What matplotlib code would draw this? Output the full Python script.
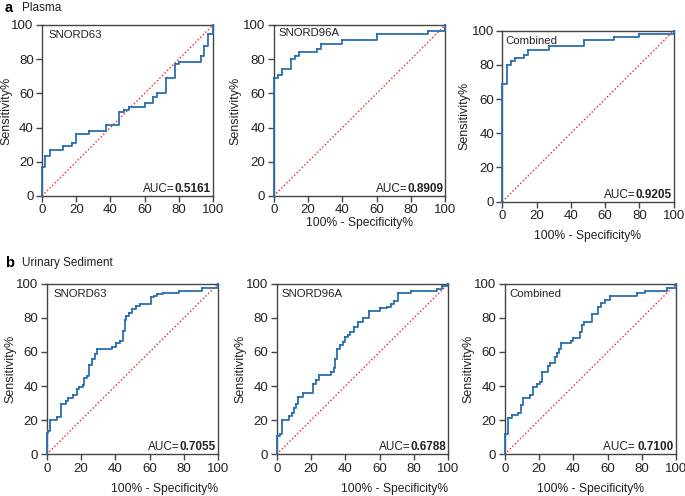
import matplotlib
matplotlib.use("Agg")
import matplotlib.pyplot as plt

plt.rcParams['font.family'] = ['Liberation Sans', 'DejaVu Sans']

# ---------------- data (ROC staircase vertices: x = 100% - Specificity%, y = Sensitivity%)
a_snord63_x = [0, 0, 2, 4.9, 12.2, 17.7, 20, 27.2, 37.3, 44.9, 48, 50.7, 60, 65, 67.5, 72.5, 77.5, 80, 92.8, 95, 97, 100]
a_snord63_y = [0, 17, 23.5, 27, 29, 31, 36, 38.3, 41.7, 49, 50.5, 52, 54.5, 58, 60, 69, 77, 78.5, 82, 88, 94.5, 100]

a_snord96a_x = [0, 0, 2.5, 5, 10, 12.5, 15, 25, 27.5, 40, 60, 90, 100]
a_snord96a_y = [0, 69, 71, 74.5, 80, 82, 84, 86, 89, 91, 95, 96.5, 100]

a_combined_x = [0, 0, 2.5, 5, 7.5, 12.5, 15, 27.5, 47.5, 65, 80, 100]
a_combined_y = [0, 69, 80, 82, 84, 86, 89, 91, 94.5, 96.5, 98, 100]

b_snord63_x = [0, 0, 1, 2, 6.2, 8.5, 11, 12.5, 15.5, 17.5, 19, 21, 22, 23.3, 24.5, 26.4, 28, 29.5,
               38, 40.4, 42.5, 44.5, 45.5, 46.5, 48, 49.7, 52, 54.5, 60.5, 62.5, 64.5, 67.5, 77, 90.5, 100]
b_snord63_y = [0, 12.3, 13.5, 20, 22, 29.5, 31.5, 33, 35, 38, 39.3, 40.4, 44.5, 46, 52.5, 56, 59, 61.7,
               63, 65.5, 66.5, 72, 79, 81, 83, 85, 87, 88, 92, 93, 94, 94.5, 96, 97.5, 100]

b_snord96a_x = [0, 0, 1.8, 2.8, 7.4, 9, 10.3, 11.3, 12.4, 15.3, 21, 23, 24.9, 31.7, 33.2, 34.2, 35.2, 37,
                38.5, 40, 41.5, 43, 45, 47.4, 50, 54, 60, 64, 66.5, 68.3, 70.5, 78.5, 93.5, 96.5, 100]
b_snord96a_y = [0, 10.5, 12, 20, 22.5, 24, 27, 29.5, 33.3, 35.7, 41, 43.5, 46.5, 48, 50.8, 56, 61.5, 64,
                66, 68.8, 70, 71.7, 74.6, 77.5, 80, 84, 85.8, 86.5, 88, 89.8, 94.8, 95.8, 97, 98.8, 100]

b_combined_x = [0, 0, 1.8, 4, 8, 9.3, 10.9, 14.8, 16.7, 18.6, 20.6, 21.8, 25.2, 26.4, 29.5, 30.5, 31.6,
                32.6, 38.4, 40, 43.9, 44.9, 46.5, 50.7, 54.6, 56.3, 58.3, 61.2, 77, 82, 94.7, 100]
b_combined_y = [0, 12, 21.3, 23, 24.5, 29, 33, 35, 39.6, 41, 42.5, 48, 52, 53.5, 57, 59.5, 61.5,
                65.3, 66.5, 68, 71.7, 76, 77.5, 82.5, 86.5, 88.5, 90.5, 93, 94.5, 95.8, 97.3, 100]

names = ["SNORD63", "SNORD96A", "Combined", "SNORD63", "SNORD96A", "Combined"]
auc_values = ["0.5161", "0.8909", "0.9205", "0.7055", "0.6788", "0.7100"]
auc_prefix = ["AUC=", "AUC=", "AUC=", "AUC=", "AUC=", "AUC= "]
ticks = [0, 20, 40, 60, 80, 100]

curves = [(a_snord63_x, a_snord63_y), (a_snord96a_x, a_snord96a_y), (a_combined_x, a_combined_y),
          (b_snord63_x, b_snord63_y), (b_snord96a_x, b_snord96a_y), (b_combined_x, b_combined_y)]

# ---------------- layout (pixels: left, right, top, bottom)
W, H = 685, 496
boxes = [(42, 213, 25, 196), (273.7, 445.3, 25, 196), (502.3, 673.7, 30.7, 201.7),
         (46.7, 218.3, 283.7, 454.3), (276.7, 448.3, 283.7, 454.3), (504.7, 676.3, 283.7, 454.3)]
ylab_right = [12, 241, 470, 16, 246, 474]
name_pos = [(0.035, 0.94), (0.027, 0.952), (0.02, 0.94), (0.04, 0.94), (0.03, 0.94), (0.03, 0.94)]
# xlabel: (y pixel, alignment)
xlab = [None, (223, 'center'), (236, 'center'), (489, 'right'), (489, 'right'), (489, 'center')]

fig = plt.figure(figsize=(W / 100, H / 100), dpi=100)
line_col = '#2a70b0'
spine_col = '#444444'
txt_col = '#222222'

for i, (l, r, t, b) in enumerate(boxes):
    ax = fig.add_axes([l / W, 1 - b / H, (r - l) / W, (b - t) / H])
    x, y = curves[i]
    ax.plot([0, 100], [0, 100], color='#ee2222', linestyle=(0, (1, 1.6)), linewidth=1.0, clip_on=False)
    ax.plot(x, y, drawstyle='steps-post', color=line_col, linewidth=1.3,
            marker='s', markersize=1.6, markeredgewidth=0, clip_on=False, zorder=3)
    ax.set_xlim(0, 100)
    ax.set_ylim(0, 100)
    ax.set_xticks(ticks)
    ax.set_yticks(ticks)
    ax.tick_params(direction='out', length=4, width=1, labelsize=9.5, color=spine_col,
                   labelcolor=txt_col, pad=2)
    for s in ax.spines.values():
        s.set_color(spine_col)
        s.set_linewidth(1.0)
    ax.set_ylabel('Sensitivity%', fontsize=9, color=txt_col)
    ax.yaxis.set_label_coords((ylab_right[i] - l) / (r - l), 0.5)
    nx, ny = name_pos[i]
    ax.text(nx, ny, names[i], transform=ax.transAxes, fontsize=8.2, ha='left', va='center',
            color=txt_col)
    tv = ax.text(0.988, 0.04, auc_values[i], transform=ax.transAxes, fontsize=8.5,
                 fontweight='bold', ha='right', va='center', color=txt_col)
    ax.annotate(auc_prefix[i], xy=(0, 0.5), xycoords=tv, ha='right', va='center',
                fontsize=8.5, color=txt_col)
    if xlab[i] is not None:
        ypix, al = xlab[i]
        xpos = r if al == 'right' else (l + r) / 2
        fig.text(xpos / W, 1 - ypix / H, '100% - Specificity%', fontsize=8.7, ha=al,
                 va='center', color=txt_col)

fig.text(5 / W, 1 - 8 / H, 'a', fontsize=10.5, fontweight='bold', va='center', ha='left')
fig.text(22 / W, 1 - 8 / H, 'Plasma', fontsize=8.5, va='center', ha='left', color=txt_col)
fig.text(5 / W, 1 - 263 / H, 'b', fontsize=10.5, fontweight='bold', va='center', ha='left')
fig.text(22 / W, 1 - 263 / H, 'Urinary Sediment', fontsize=8.5, va='center', ha='left', color=txt_col)

fig.savefig('out.png', dpi=100)
